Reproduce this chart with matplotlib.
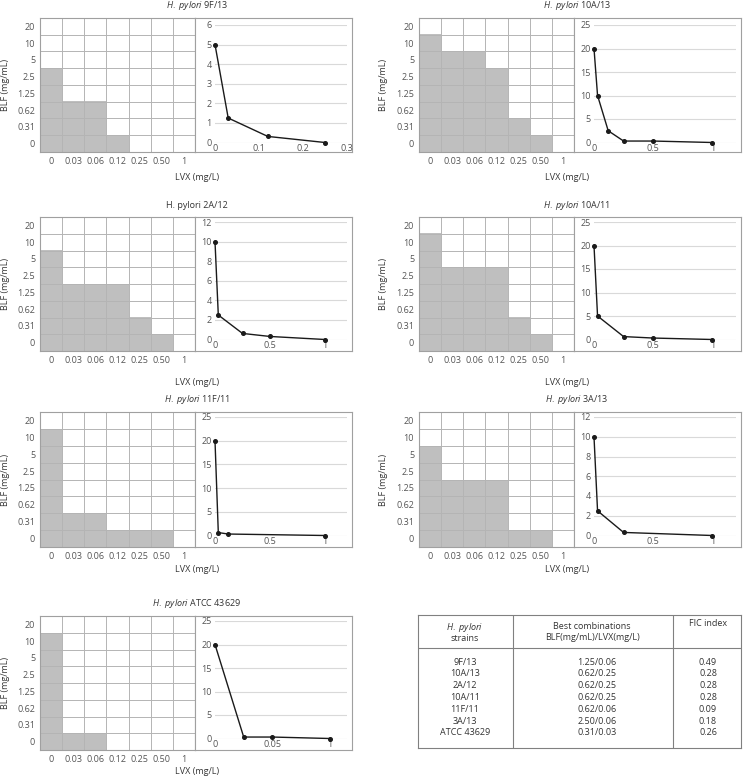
import matplotlib
matplotlib.use('Agg')
import matplotlib.pyplot as plt
import numpy as np
from matplotlib.colors import ListedColormap

plt.rcParams['font.family'] = ['Open Sans', 'DejaVu Sans']
plt.rcParams['mathtext.fontset'] = 'custom'
plt.rcParams['mathtext.rm'] = 'Open Sans'
plt.rcParams['mathtext.it'] = 'Open Sans:italic'

# ---------------- data ----------------
strains = ["9F/13", "10A/13", "2A/12", "10A/11", "11F/11", "3A/13", "ATCC 43629"]
blf_levels = ["0", "0.31", "0.62", "1.25", "2.5", "5", "10", "20"]
lvx_levels = ["0", "0.03", "0.06", "0.12", "0.25", "0.50", "1"]

# number of grey (growth) wells per LVX column, counted from BLF = 0 upwards
growth_9F13 = [5, 3, 3, 1, 0, 0, 0]
growth_10A13 = [7, 6, 6, 5, 2, 1, 0]
growth_2A12 = [6, 4, 4, 4, 2, 1, 0]
growth_10A11 = [7, 5, 5, 5, 2, 1, 0]
growth_11F11 = [7, 2, 2, 1, 1, 1, 0]
growth_3A13 = [6, 4, 4, 4, 1, 1, 0]
growth_ATCC = [7, 1, 1, 0, 0, 0, 0]

# isobologram points: LVX (x) vs BLF (y)
iso_x_9F13 = [0, 0.03, 0.12, 0.25]
iso_y_9F13 = [5, 1.25, 0.31, 0]
iso_x_10A13 = [0, 0.03, 0.12, 0.25, 0.5, 1]
iso_y_10A13 = [20, 10, 2.5, 0.31, 0.31, 0]
iso_x_2A12 = [0, 0.03, 0.25, 0.5, 1]
iso_y_2A12 = [10, 2.5, 0.62, 0.31, 0]
iso_x_10A11 = [0, 0.03, 0.25, 0.5, 1]
iso_y_10A11 = [20, 5, 0.62, 0.31, 0]
iso_x_11F11 = [0, 0.03, 0.12, 1]
iso_y_11F11 = [20, 0.62, 0.31, 0]
iso_x_3A13 = [0, 0.03, 0.25, 1]
iso_y_3A13 = [10, 2.5, 0.31, 0]
iso_x_ATCC = [0, 0.025, 0.05, 0.1]
iso_y_ATCC = [20, 0.31, 0.31, 0]

# axis tick settings of each isobologram
xticks_9F13 = [0, 0.1, 0.2, 0.3]
xticklabels_9F13 = ["0", "0.1", "0.2", "0.3"]
xticks_std = [0, 0.5, 1]
xticklabels_std = ["0", "0.5", "1"]
xticks_ATCC = [0, 0.05, 0.1]
xticklabels_ATCC = ["0", "0.05", "1"]
yticks_6 = [0, 1, 2, 3, 4, 5, 6]
yticks_12 = [0, 2, 4, 6, 8, 10, 12]
yticks_25 = [0, 5, 10, 15, 20, 25]

table_strains = ["9F/13", "10A/13", "2A/12", "10A/11", "11F/11", "3A/13", "ATCC 43629"]
table_combos = ["1.25/0.06", "0.62/0.25", "0.62/0.25", "0.62/0.25", "0.62/0.06", "2.50/0.06", "0.31/0.03"]
table_fic = ["0.49", "0.28", "0.28", "0.28", "0.09", "0.18", "0.26"]

# ---------------- layout ----------------
W, H = 743, 778
fig = plt.figure(figsize=(W / 100, H / 100), dpi=100)


def box(x0, y0, x1, y1):
    return [x0 / W, 1 - y1 / H, (x1 - x0) / W, (y1 - y0) / H]


panels = [
    dict(name=strains[0], growth=growth_9F13, x=iso_x_9F13, y=iso_y_9F13, xlim=0.3,
         xt=xticks_9F13, xtl=xticklabels_9F13, yt=yticks_6, col=0, row=0, ital=True),
    dict(name=strains[1], growth=growth_10A13, x=iso_x_10A13, y=iso_y_10A13, xlim=1.2,
         xt=xticks_std, xtl=xticklabels_std, yt=yticks_25, col=1, row=0, ital=True),
    dict(name=strains[2], growth=growth_2A12, x=iso_x_2A12, y=iso_y_2A12, xlim=1.2,
         xt=xticks_std, xtl=xticklabels_std, yt=yticks_12, col=0, row=1, ital=False),
    dict(name=strains[3], growth=growth_10A11, x=iso_x_10A11, y=iso_y_10A11, xlim=1.2,
         xt=xticks_std, xtl=xticklabels_std, yt=yticks_25, col=1, row=1, ital=True),
    dict(name=strains[4], growth=growth_11F11, x=iso_x_11F11, y=iso_y_11F11, xlim=1.2,
         xt=xticks_std, xtl=xticklabels_std, yt=yticks_25, col=0, row=2, ital=True),
    dict(name=strains[5], growth=growth_3A13, x=iso_x_3A13, y=iso_y_3A13, xlim=1.2,
         xt=xticks_std, xtl=xticklabels_std, yt=yticks_12, col=1, row=2, ital=True),
    dict(name=strains[6], growth=growth_ATCC, x=iso_x_ATCC, y=iso_y_ATCC, xlim=0.115,
         xt=xticks_ATCC, xtl=xticklabels_ATCC, yt=yticks_25, col=0, row=3, ital=True),
]

col_geom = [dict(gx0=40, gx1=195, fx1=352, title_x=197, xlab_x=197, ylab_x=6),
            dict(gx0=419, gx1=574, fx1=741, title_x=577, xlab_x=567, ylab_x=384)]
row_geom = [dict(y0=18, y1=152, title_y=6, xlab_y=177),
            dict(y0=217, y1=351, title_y=205, xlab_y=382),
            dict(y0=412, y1=547, title_y=400, xlab_y=569),
            dict(y0=616, y1=750, title_y=603, xlab_y=772)]

FS = 6.5
TICK_C = '#555555'
TEXT_C = '#333333'
GRID_EDGE = '#b4b4b4'
GREY = '#bfbfbf'
FRAME_C = '#a0a0a0'

cmap = ListedColormap(['white', GREY])

for p in panels:
    cg = col_geom[p['col']]
    rg = row_geom[p['row']]
    y0, y1 = rg['y0'], rg['y1']

    # ---- checkerboard grid ----
    axg = fig.add_axes(box(cg['gx0'], y0, cg['gx1'], y1))
    nrows, ncols = len(blf_levels), len(lvx_levels)
    M = np.zeros((nrows, ncols))
    for c, n in enumerate(p['growth']):
        M[:n, c] = 1
    axg.imshow(M, cmap=cmap, vmin=0, vmax=1, origin='lower', aspect='auto',
               interpolation='nearest', extent=(0, ncols, 0, nrows))
    for k in range(1, ncols):
        axg.axvline(k, color=GRID_EDGE, lw=0.7)
    for k in range(1, nrows):
        axg.axhline(k, color=GRID_EDGE, lw=0.7)
    axg.set_xlim(0, ncols)
    axg.set_ylim(0, nrows)
    axg.set_xticks(np.arange(ncols) + 0.5)
    axg.set_xticklabels(lvx_levels)
    axg.set_yticks(np.arange(nrows) + 0.5)
    axg.set_yticklabels(blf_levels)
    axg.tick_params(length=0, labelsize=FS, labelcolor=TICK_C)
    axg.tick_params(axis='x', pad=3.5)
    axg.tick_params(axis='y', pad=3.5)
    for s in axg.spines.values():
        s.set_color(FRAME_C)
        s.set_linewidth(0.8)

    # ---- frame for isobologram ----
    axf = fig.add_axes(box(cg['gx1'], y0, cg['fx1'], y1))
    axf.set_xticks([])
    axf.set_yticks([])
    for s in axf.spines.values():
        s.set_color(FRAME_C)
        s.set_linewidth(0.8)

    # ---- isobologram ----
    top_off = 7 if p['row'] == 0 else 5
    bot_off = 9.5 if p['row'] == 0 else 11.5
    axl = fig.add_axes(box(cg['gx1'] + 20, y0 + top_off, cg['fx1'] - 5, y1 - bot_off))
    axl.patch.set_alpha(0)
    axl.plot(p['x'], p['y'], color='#1a1a1a', lw=1.0, marker='o', ms=2.6,
             clip_on=False, zorder=3)
    axl.set_xlim(0, p['xlim'])
    axl.set_ylim(p['yt'][0], p['yt'][-1])
    axl.set_xticks(p['xt'])
    axl.set_xticklabels(p['xtl'])
    axl.set_yticks(p['yt'])
    axl.yaxis.grid(True, color='#d9d9d9', lw=0.8)
    axl.set_axisbelow(True)
    for s in axl.spines.values():
        s.set_visible(False)
    axl.tick_params(length=0, labelsize=FS, labelcolor=TICK_C)
    axl.tick_params(axis='x', pad=1)
    axl.tick_params(axis='y', pad=2.5)

    # ---- texts ----
    if p['ital']:
        ttl = r'$\mathit{H.\ pylori}$ ' + p['name']
    else:
        ttl = 'H. pylori ' + p['name']
    fig.text(cg['title_x'] / W, 1 - rg['title_y'] / H, ttl, ha='center', va='center',
             fontsize=FS, color=TEXT_C)
    fig.text(cg['xlab_x'] / W, 1 - rg['xlab_y'] / H, 'LVX (mg/L)',
             ha='center', va='center', fontsize=FS, color=TEXT_C)
    fig.text(cg['ylab_x'] / W, 1 - ((y0 + y1) / 2) / H, 'BLF (mg/mL)',
             ha='center', va='center', rotation=90, fontsize=FS, color=TEXT_C)

# ---------------- table ----------------
tx0, ty0, tx1, ty1 = 418, 615, 741, 748
axt = fig.add_axes(box(tx0, ty0, tx1, ty1))
axt.set_xlim(tx0, tx1)
axt.set_ylim(ty1, ty0)
axt.set_xticks([])
axt.set_yticks([])
for s in axt.spines.values():
    s.set_color('#808080')
    s.set_linewidth(0.8)
for xv in (513, 673):
    axt.plot([xv, xv], [ty0, ty1], color='#808080', lw=0.8)
axt.plot([tx0, tx1], [648, 648], color='#808080', lw=0.8)

col_x = [465, 597, 708]
axt.text(465, 627, r'$\mathit{H.\ pylori}$', ha='center', va='center', fontsize=FS, color=TEXT_C)
axt.text(465, 638.5, 'strains', ha='center', va='center', fontsize=FS, color=TEXT_C)
axt.text(592, 626, 'Best combinations', ha='center', va='center', fontsize=FS, color=TEXT_C)
axt.text(592, 637, 'BLF(mg/mL)/LVX(mg/L)', ha='center', va='center', fontsize=FS, color=TEXT_C)
axt.text(708, 623.5, 'FIC index', ha='center', va='center', fontsize=FS, color=TEXT_C)
for i, (s, c, f) in enumerate(zip(table_strains, table_combos, table_fic)):
    yy = 662 + 11.83 * i
    axt.text(col_x[0], yy, s, ha='center', va='center', fontsize=FS, color=TEXT_C)
    axt.text(col_x[1], yy, c, ha='center', va='center', fontsize=FS, color=TEXT_C)
    axt.text(col_x[2], yy, f, ha='center', va='center', fontsize=FS, color=TEXT_C)

fig.savefig('out.png', dpi=100, facecolor='white')
